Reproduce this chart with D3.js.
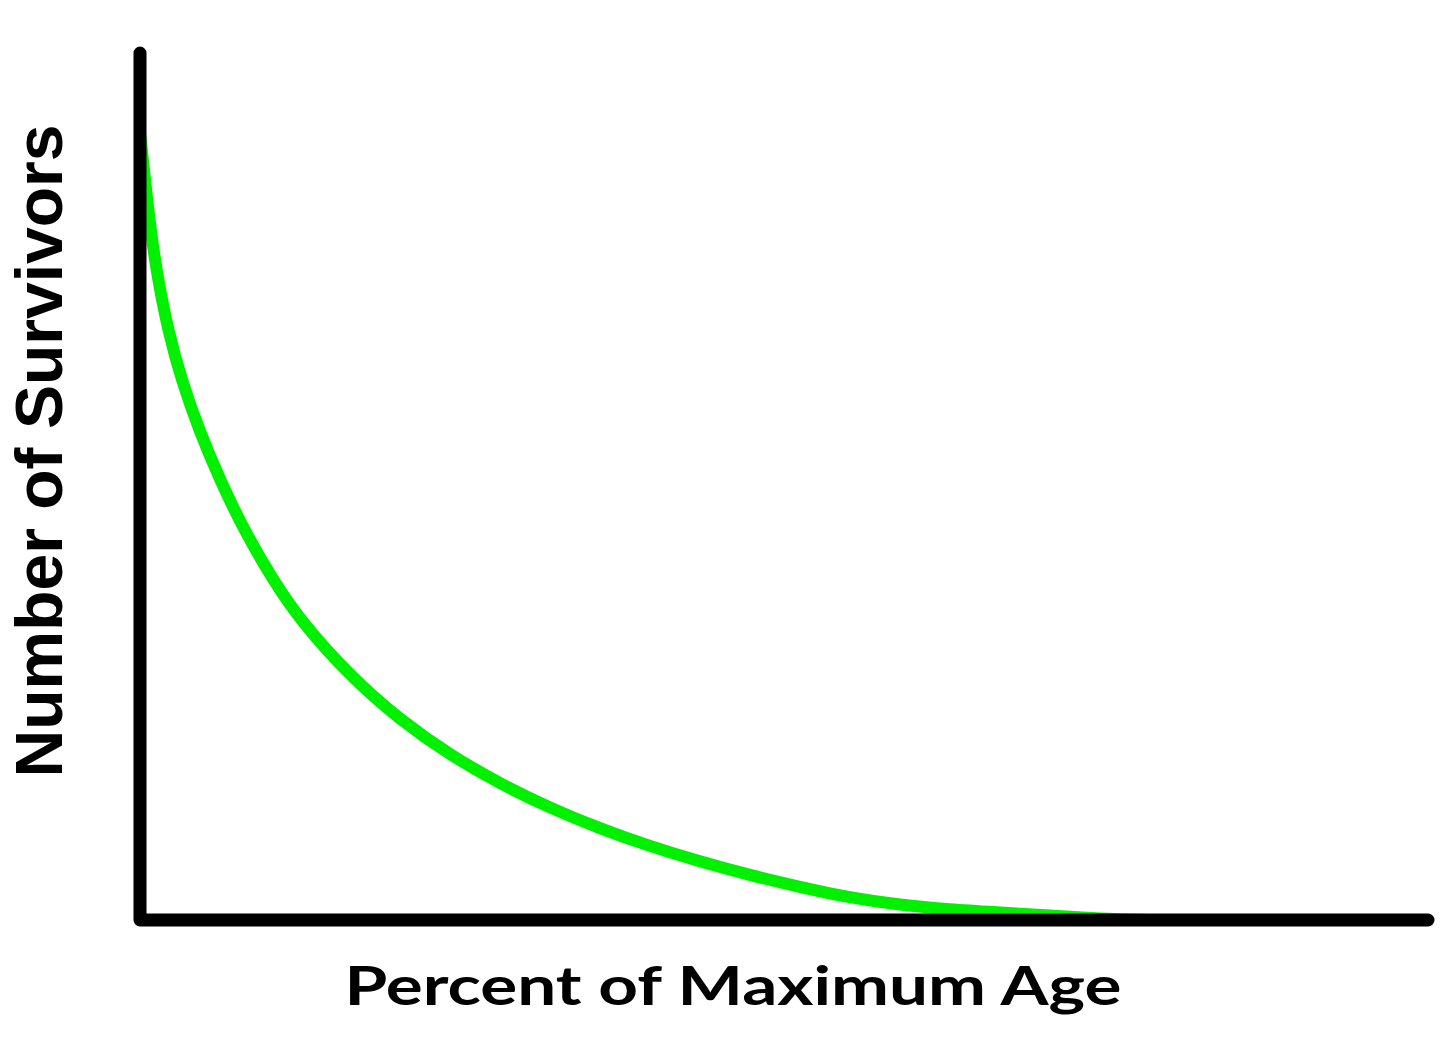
<!DOCTYPE html>
<html>
<head>
<meta charset="utf-8">
<script src="https://cdn.jsdelivr.net/npm/d3@7"></script>
<style>
  html, body { margin: 0; padding: 0; background: #ffffff; }
  svg { display: block; }
</style>
</head>
<body>
<svg id="chart" width="1440" height="1048"></svg>
<script>
// Percent of maximum age (x) and number of survivors (y)
const agePercent = [0, 0.39, 0.815, 1.40, 2.17, 3.22, 4.58, 6.21, 8.07, 10.33, 12.42, 16.30, 20.19, 24.07, 27.95, 31.83, 35.71, 39.60, 43.48, 47.36, 51.24, 55.12, 59.01, 62.89, 66.77, 70.65, 74.53, 78.42];
const survivors  = [90.8, 85.35, 79.58, 73.82, 68.05, 62.28, 56.52, 50.75, 44.98, 39.22, 34.60, 28.14, 23.07, 19.03, 15.72, 12.92, 10.54, 8.50, 6.74, 5.17, 3.81, 2.56, 1.73, 1.21, 0.87, 0.52, 0.12, 0];
const xTitle = "Percent of Maximum Age";
const yTitle = "Number of Survivors";

const svg = d3.select("#chart");
const x = d3.scaleLinear().domain([0, 100]).range([140, 1428]);
const y = d3.scaleLinear().domain([0, 100]).range([920, 53]);

const data = agePercent.map((a, i) => ({ a, s: survivors[i] }));

// curve
svg.append("path")
  .datum(data)
  .attr("fill", "none")
  .attr("stroke", "#00f000")
  .attr("stroke-width", 12)
  .attr("d", d3.line().x(d => x(d.a)).y(d => y(d.s)).curve(d3.curveBasis));

// axes (drawn on top)
const axisPath = d3.path();
axisPath.moveTo(x(0), y(100));
axisPath.lineTo(x(0), y(0));
axisPath.lineTo(x(100), y(0));
svg.append("path")
  .attr("d", axisPath.toString())
  .attr("fill", "none")
  .attr("stroke", "#000")
  .attr("stroke-width", 13)
  .attr("stroke-linecap", "round")
  .attr("stroke-linejoin", "round");

// x title
svg.append("text")
  .attr("x", 733)
  .attr("y", 1005)
  .attr("text-anchor", "middle")
  .attr("font-family", "Lato, 'Open Sans', sans-serif")
  .attr("font-weight", 700)
  .attr("font-size", 54)
  .attr("textLength", 777)
  .attr("lengthAdjust", "spacingAndGlyphs")
  .attr("fill", "#000")
  .text(xTitle);

// y title
svg.append("text")
  .attr("transform", "translate(62,451) rotate(-90)")
  .attr("text-anchor", "middle")
  .attr("font-family", "'Liberation Sans', Arial, sans-serif")
  .attr("font-weight", 700)
  .attr("font-size", 66)
  .attr("fill", "#000")
  .text(yTitle);
</script>
</body>
</html>
